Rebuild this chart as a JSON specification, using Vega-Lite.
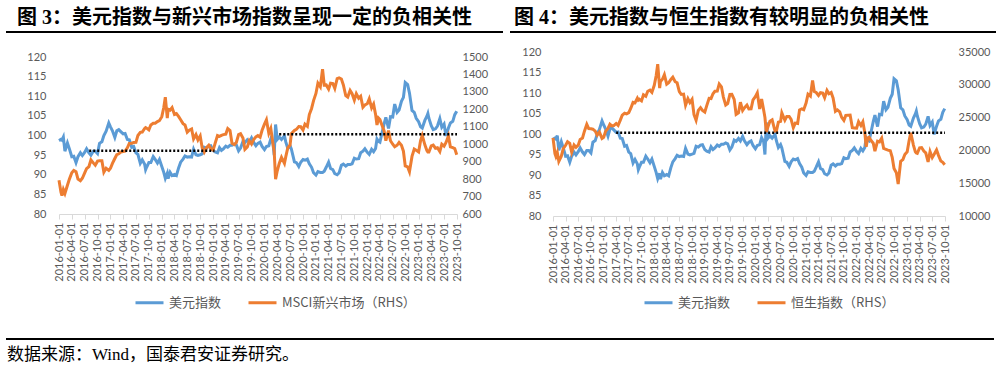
{
  "$schema": "https://vega.github.io/schema/vega-lite/v6.json",
  "background": "white",
  "padding": {"left": 5, "right": 5, "top": 8, "bottom": 5},
  "config": {
    "view": {"stroke": null},
    "font": "Lato, Noto Sans CJK SC",
    "axis": {"labelFont": "Lato, Noto Sans CJK SC", "labelColor": "#595959", "labelFontSize": 11, "grid": false}
  },
  "datasets": {
    "series": [
      {"date":"2016-01-01","usd":98.7,"em":794,"hsi":21914},
      {"date":"2016-01-15","usd":99.0,"em":725,"hsi":19520},
      {"date":"2016-01-22","usd":98.8,"em":705,"hsi":19080},
      {"date":"2016-02-01","usd":99.6,"em":740,"hsi":19683},
      {"date":"2016-02-12","usd":96.0,"em":718,"hsi":18320},
      {"date":"2016-03-01","usd":98.1,"em":765,"hsi":19111},
      {"date":"2016-03-15","usd":96.6,"em":800,"hsi":20258},
      {"date":"2016-04-01","usd":94.6,"em":836,"hsi":20777},
      {"date":"2016-04-15","usd":94.7,"em":850,"hsi":21316},
      {"date":"2016-05-01","usd":93.1,"em":842,"hsi":21067},
      {"date":"2016-05-15","usd":94.6,"em":800,"hsi":19720},
      {"date":"2016-06-01","usd":95.6,"em":791,"hsi":20815},
      {"date":"2016-06-15","usd":94.9,"em":805,"hsi":20468},
      {"date":"2016-07-01","usd":95.7,"em":834,"hsi":20794},
      {"date":"2016-07-15","usd":96.6,"em":860,"hsi":21659},
      {"date":"2016-08-01","usd":95.6,"em":872,"hsi":21891},
      {"date":"2016-08-15","usd":95.0,"em":910,"hsi":22932},
      {"date":"2016-09-01","usd":96.0,"em":893,"hsi":23977},
      {"date":"2016-09-15","usd":96.0,"em":880,"hsi":23335},
      {"date":"2016-10-01","usd":95.4,"em":903,"hsi":23297},
      {"date":"2016-10-15","usd":98.0,"em":905,"hsi":23233},
      {"date":"2016-11-01","usd":98.4,"em":905,"hsi":22935},
      {"date":"2016-11-15","usd":100.0,"em":840,"hsi":22323},
      {"date":"2016-12-01","usd":101.1,"em":862,"hsi":22790},
      {"date":"2016-12-20","usd":103.2,"em":850,"hsi":21830},
      {"date":"2017-01-01","usd":102.2,"em":862,"hsi":22001},
      {"date":"2017-01-15","usd":101.2,"em":890,"hsi":22937},
      {"date":"2017-02-01","usd":99.5,"em":918,"hsi":23361},
      {"date":"2017-02-15","usd":101.2,"em":940,"hsi":23994},
      {"date":"2017-03-01","usd":101.5,"em":945,"hsi":23741},
      {"date":"2017-03-15","usd":101.0,"em":955,"hsi":23792},
      {"date":"2017-04-01","usd":100.4,"em":958,"hsi":24112},
      {"date":"2017-04-15","usd":100.5,"em":960,"hsi":23825},
      {"date":"2017-05-01","usd":99.0,"em":979,"hsi":24615},
      {"date":"2017-05-15","usd":98.9,"em":1005,"hsi":25371},
      {"date":"2017-06-01","usd":97.0,"em":1006,"hsi":25661},
      {"date":"2017-06-15","usd":97.2,"em":1010,"hsi":25565},
      {"date":"2017-07-01","usd":95.6,"em":1011,"hsi":25765},
      {"date":"2017-07-15","usd":95.2,"em":1050,"hsi":26389},
      {"date":"2017-08-01","usd":92.9,"em":1068,"hsi":27324},
      {"date":"2017-08-15","usd":93.8,"em":1070,"hsi":27250},
      {"date":"2017-09-01","usd":92.7,"em":1090,"hsi":27970},
      {"date":"2017-09-08","usd":91.3,"em":1095,"hsi":27668},
      {"date":"2017-09-15","usd":91.9,"em":1092,"hsi":27808},
      {"date":"2017-10-01","usd":93.1,"em":1082,"hsi":27554},
      {"date":"2017-10-15","usd":93.1,"em":1110,"hsi":28476},
      {"date":"2017-11-01","usd":94.6,"em":1120,"hsi":28246},
      {"date":"2017-11-15","usd":93.9,"em":1120,"hsi":29018},
      {"date":"2017-12-01","usd":93.0,"em":1130,"hsi":29177},
      {"date":"2017-12-15","usd":93.9,"em":1135,"hsi":28848},
      {"date":"2018-01-01","usd":92.1,"em":1158,"hsi":29919},
      {"date":"2018-01-15","usd":90.6,"em":1210,"hsi":31412},
      {"date":"2018-01-26","usd":89.1,"em":1270,"hsi":33154},
      {"date":"2018-02-09","usd":90.4,"em":1150,"hsi":29507},
      {"date":"2018-02-15","usd":89.0,"em":1200,"hsi":30515},
      {"date":"2018-03-01","usd":90.6,"em":1195,"hsi":30845},
      {"date":"2018-03-15","usd":89.8,"em":1210,"hsi":31541},
      {"date":"2018-04-01","usd":90.1,"em":1170,"hsi":30093},
      {"date":"2018-04-15","usd":89.8,"em":1175,"hsi":30316},
      {"date":"2018-05-01","usd":91.8,"em":1158,"hsi":30808},
      {"date":"2018-05-15","usd":93.2,"em":1140,"hsi":31152},
      {"date":"2018-06-01","usd":94.0,"em":1118,"hsi":30469},
      {"date":"2018-06-15","usd":94.8,"em":1110,"hsi":30309},
      {"date":"2018-07-01","usd":94.5,"em":1069,"hsi":28955},
      {"date":"2018-07-15","usd":94.6,"em":1080,"hsi":28525},
      {"date":"2018-08-01","usd":94.5,"em":1087,"hsi":28583},
      {"date":"2018-08-15","usd":96.5,"em":1030,"hsi":26888},
      {"date":"2018-09-01","usd":95.1,"em":1055,"hsi":27889},
      {"date":"2018-09-15","usd":94.9,"em":1025,"hsi":27286},
      {"date":"2018-10-01","usd":95.1,"em":1048,"hsi":27789},
      {"date":"2018-10-15","usd":95.3,"em":980,"hsi":25445},
      {"date":"2018-10-30","usd":97.0,"em":955,"hsi":24586},
      {"date":"2018-11-15","usd":96.8,"em":980,"hsi":26103},
      {"date":"2018-12-01","usd":97.3,"em":994,"hsi":26507},
      {"date":"2018-12-15","usd":97.4,"em":975,"hsi":26094},
      {"date":"2019-01-01","usd":96.2,"em":966,"hsi":25846},
      {"date":"2019-01-15","usd":95.8,"em":1005,"hsi":26830},
      {"date":"2019-02-01","usd":95.6,"em":1050,"hsi":27942},
      {"date":"2019-02-15","usd":96.9,"em":1045,"hsi":27900},
      {"date":"2019-03-01","usd":96.2,"em":1051,"hsi":28633},
      {"date":"2019-03-15","usd":96.6,"em":1055,"hsi":29012},
      {"date":"2019-04-01","usd":97.3,"em":1058,"hsi":29051},
      {"date":"2019-04-15","usd":97.0,"em":1090,"hsi":30130},
      {"date":"2019-05-01","usd":97.5,"em":1079,"hsi":29699},
      {"date":"2019-05-15","usd":97.5,"em":1005,"hsi":28122},
      {"date":"2019-06-01","usd":97.8,"em":998,"hsi":26901},
      {"date":"2019-06-15","usd":97.6,"em":1010,"hsi":27118},
      {"date":"2019-07-01","usd":96.1,"em":1055,"hsi":28543},
      {"date":"2019-07-15","usd":96.8,"em":1060,"hsi":28554},
      {"date":"2019-08-01","usd":98.5,"em":1036,"hsi":27778},
      {"date":"2019-08-15","usd":98.2,"em":970,"hsi":25495},
      {"date":"2019-09-01","usd":98.9,"em":984,"hsi":25725},
      {"date":"2019-09-15","usd":98.3,"em":1020,"hsi":27353},
      {"date":"2019-10-01","usd":99.4,"em":1001,"hsi":26092},
      {"date":"2019-10-15","usd":98.3,"em":1025,"hsi":26521},
      {"date":"2019-11-01","usd":97.4,"em":1042,"hsi":26907},
      {"date":"2019-11-15","usd":98.0,"em":1050,"hsi":26327},
      {"date":"2019-12-01","usd":98.3,"em":1040,"hsi":26346},
      {"date":"2019-12-15","usd":97.2,"em":1080,"hsi":27688},
      {"date":"2020-01-01","usd":96.4,"em":1115,"hsi":28190},
      {"date":"2020-01-15","usd":97.2,"em":1140,"hsi":28773},
      {"date":"2020-02-01","usd":97.4,"em":1062,"hsi":26313},
      {"date":"2020-02-15","usd":99.1,"em":1090,"hsi":27815},
      {"date":"2020-03-01","usd":98.1,"em":1005,"hsi":26130},
      {"date":"2020-03-10","usd":95.0,"em":960,"hsi":25040},
      {"date":"2020-03-20","usd":102.8,"em":800,"hsi":22805},
      {"date":"2020-04-01","usd":99.0,"em":848,"hsi":23603},
      {"date":"2020-04-15","usd":99.6,"em":890,"hsi":24435},
      {"date":"2020-05-01","usd":99.0,"em":925,"hsi":24644},
      {"date":"2020-05-22","usd":99.9,"em":890,"hsi":22930},
      {"date":"2020-06-01","usd":98.3,"em":930,"hsi":22961},
      {"date":"2020-06-15","usd":96.7,"em":980,"hsi":24301},
      {"date":"2020-07-01","usd":97.4,"em":995,"hsi":24427},
      {"date":"2020-07-10","usd":96.6,"em":1060,"hsi":25727},
      {"date":"2020-08-01","usd":93.3,"em":1079,"hsi":24595},
      {"date":"2020-08-15","usd":93.1,"em":1085,"hsi":25183},
      {"date":"2020-09-01","usd":92.1,"em":1101,"hsi":25177},
      {"date":"2020-09-15","usd":93.2,"em":1100,"hsi":24733},
      {"date":"2020-10-01","usd":93.9,"em":1082,"hsi":23459},
      {"date":"2020-10-15","usd":93.7,"em":1115,"hsi":24158},
      {"date":"2020-11-01","usd":94.0,"em":1103,"hsi":24107},
      {"date":"2020-11-15","usd":92.8,"em":1170,"hsi":26157},
      {"date":"2020-12-01","usd":91.9,"em":1205,"hsi":26341},
      {"date":"2020-12-15","usd":90.5,"em":1250,"hsi":26207},
      {"date":"2021-01-01","usd":89.9,"em":1291,"hsi":27231},
      {"date":"2021-01-15","usd":90.8,"em":1350,"hsi":28573},
      {"date":"2021-02-01","usd":90.6,"em":1329,"hsi":28284},
      {"date":"2021-02-17","usd":90.6,"em":1430,"hsi":30644},
      {"date":"2021-03-01","usd":90.9,"em":1339,"hsi":28980},
      {"date":"2021-03-15","usd":91.9,"em":1340,"hsi":28833},
      {"date":"2021-04-01","usd":93.2,"em":1316,"hsi":28378},
      {"date":"2021-04-15","usd":91.6,"em":1350,"hsi":28793},
      {"date":"2021-05-01","usd":91.3,"em":1348,"hsi":28725},
      {"date":"2021-05-15","usd":90.3,"em":1320,"hsi":28028},
      {"date":"2021-06-01","usd":90.0,"em":1376,"hsi":29151},
      {"date":"2021-06-15","usd":90.5,"em":1380,"hsi":28638},
      {"date":"2021-07-01","usd":92.4,"em":1374,"hsi":28828},
      {"date":"2021-07-15","usd":92.7,"em":1340,"hsi":27996},
      {"date":"2021-08-01","usd":92.2,"em":1278,"hsi":25961},
      {"date":"2021-08-15","usd":92.6,"em":1270,"hsi":26181},
      {"date":"2021-09-01","usd":92.6,"em":1308,"hsi":25879},
      {"date":"2021-09-15","usd":92.8,"em":1290,"hsi":25034},
      {"date":"2021-10-01","usd":94.2,"em":1253,"hsi":24576},
      {"date":"2021-10-15","usd":94.0,"em":1290,"hsi":25330},
      {"date":"2021-11-01","usd":94.1,"em":1264,"hsi":25377},
      {"date":"2021-11-15","usd":95.6,"em":1275,"hsi":25390},
      {"date":"2021-12-01","usd":96.0,"em":1212,"hsi":23475},
      {"date":"2021-12-15","usd":96.6,"em":1225,"hsi":23420},
      {"date":"2022-01-01","usd":95.7,"em":1232,"hsi":23398},
      {"date":"2022-01-15","usd":95.2,"em":1260,"hsi":24383},
      {"date":"2022-02-01","usd":96.5,"em":1208,"hsi":23802},
      {"date":"2022-02-15","usd":95.9,"em":1230,"hsi":24356},
      {"date":"2022-03-01","usd":96.7,"em":1171,"hsi":22713},
      {"date":"2022-03-11","usd":99.1,"em":1110,"hsi":20553},
      {"date":"2022-03-22","usd":98.5,"em":1150,"hsi":21890},
      {"date":"2022-04-01","usd":98.3,"em":1141,"hsi":21997},
      {"date":"2022-04-15","usd":100.5,"em":1110,"hsi":21518},
      {"date":"2022-05-01","usd":103.0,"em":1076,"hsi":21089},
      {"date":"2022-05-13","usd":104.6,"em":1020,"hsi":19898},
      {"date":"2022-06-01","usd":101.8,"em":1078,"hsi":21415},
      {"date":"2022-06-15","usd":104.8,"em":1020,"hsi":21308},
      {"date":"2022-07-01","usd":104.7,"em":1000,"hsi":21860},
      {"date":"2022-07-15","usd":108.0,"em":985,"hsi":20297},
      {"date":"2022-08-01","usd":105.9,"em":994,"hsi":20157},
      {"date":"2022-08-15","usd":106.5,"em":1010,"hsi":20041},
      {"date":"2022-09-01","usd":108.7,"em":994,"hsi":19954},
      {"date":"2022-09-15","usd":109.7,"em":960,"hsi":18930},
      {"date":"2022-09-28","usd":113.5,"em":876,"hsi":17250},
      {"date":"2022-10-15","usd":113.0,"em":870,"hsi":16588},
      {"date":"2022-10-28","usd":110.8,"em":842,"hsi":14863},
      {"date":"2022-11-15","usd":106.4,"em":930,"hsi":18343},
      {"date":"2022-12-01","usd":105.9,"em":972,"hsi":18597},
      {"date":"2022-12-15","usd":104.4,"em":965,"hsi":19368},
      {"date":"2023-01-01","usd":103.5,"em":956,"hsi":19781},
      {"date":"2023-01-15","usd":102.2,"em":1020,"hsi":21514},
      {"date":"2023-01-27","usd":101.9,"em":1050,"hsi":22689},
      {"date":"2023-02-15","usd":103.9,"em":995,"hsi":20812},
      {"date":"2023-03-01","usd":104.9,"em":964,"hsi":19786},
      {"date":"2023-03-08","usd":105.6,"em":955,"hsi":19599},
      {"date":"2023-03-15","usd":104.4,"em":955,"hsi":19539},
      {"date":"2023-04-01","usd":102.5,"em":990,"hsi":20400},
      {"date":"2023-04-15","usd":101.5,"em":995,"hsi":20439},
      {"date":"2023-05-01","usd":101.7,"em":977,"hsi":19895},
      {"date":"2023-05-15","usd":102.4,"em":980,"hsi":19627},
      {"date":"2023-06-01","usd":104.3,"em":958,"hsi":18234},
      {"date":"2023-06-15","usd":102.1,"em":1000,"hsi":19828},
      {"date":"2023-07-01","usd":102.9,"em":989,"hsi":18916},
      {"date":"2023-07-15","usd":99.9,"em":1010,"hsi":19413},
      {"date":"2023-08-01","usd":101.9,"em":1047,"hsi":20079},
      {"date":"2023-08-15","usd":103.2,"em":985,"hsi":19246},
      {"date":"2023-09-01","usd":103.6,"em":980,"hsi":18382},
      {"date":"2023-09-15","usd":105.3,"em":975,"hsi":18182},
      {"date":"2023-09-29","usd":106.2,"em":940,"hsi":17810}
    ],
    "avg3": [
      {"start":"2016-08-03","end":"2019-01-10","level":96.1},
      {"start":"2020-04-15","end":"2023-10-01","level":100.3}
    ],
    "avg4": [
      {"start":"2017-04-01","end":"2023-10-01","level":100.3}
    ],
    "titleRule": [{"part":"rule"}],
    "empty": []
  },
  "spacing": 28,
  "vconcat": [
    {
      "spacing": 5,
      "resolve": {"scale": {"color": "independent"}, "legend": {"color": "independent"}},
      "hconcat": [
        {
          "spacing": 18,
          "resolve": {"scale": {"color": "independent"}, "legend": {"color": "independent"}},
          "vconcat": [
            {
              "width": 497, "height": 1,
              "data": {"name": "titleRule"},
              "title": {"text": "图 3：美元指数与新兴市场指数呈现一定的负相关性", "anchor": "start", "orient": "top", "fontSize": 20, "fontWeight": "bold", "font": "Liberation Serif, Noto Sans CJK SC", "color": "#000000", "offset": 3, "dx": 12},
              "mark": {"type": "rule", "color": "#000000", "strokeWidth": 2},
              "encoding": {"y": {"datum": 1, "type": "quantitative", "scale": {"domain": [0, 1]}, "axis": null}}
            },
            {
              "spacing": 0,
              "resolve": {"scale": {"color": "independent"}, "legend": {"color": "independent"}},
              "hconcat": [
                {"width": 1, "height": 1, "data": {"name": "empty"}, "mark": "point", "encoding": {}},
                {
                  "width": 398, "height": 157,
                  "data": {"name": "series"},
                  "layer": [
                    {
                      "mark": {"type": "line", "strokeWidth": 3},
                      "encoding": {
                        "x": {"field": "date", "type": "temporal", "title": null,
                          "scale": {"type": "utc", "domain": [{"year": 2016, "month": 1, "date": 1, "utc": true}, {"year": 2023, "month": 10, "date": 1, "utc": true}]},
                          "axis": {"format": "%Y-%m-%d", "labelAngle": -90, "tickCount": {"interval": "month", "step": 3}, "labelOverlap": false, "labelFlush": false, "labelBound": false, "domainColor": "#D9D9D9", "tickColor": "#D9D9D9", "tickSize": 5, "labelPadding": 3, "labelFontSize": 11, "labelColor": "#595959", "grid": false}},
                        "y": {"field": "usd", "type": "quantitative", "title": null,
                          "scale": {"domain": [80, 120], "nice": false, "zero": false},
                          "axis": {"orient": "left", "values": [80, 85, 90, 95, 100, 105, 110, 115, 120], "domain": false, "ticks": false, "labelPadding": 13, "minExtent": 52, "grid": false}},
                        "color": {"datum": "美元指数", "type": "nominal",
                          "scale": {"domain": ["美元指数", "MSCI新兴市场（RHS）"], "range": ["#5B9BD5", "#ED7D31"]},
                          "legend": {"orient": "none", "legendX": 75, "legendY": 230, "direction": "horizontal", "title": null, "symbolType": "stroke", "symbolSize": 784, "symbolStrokeWidth": 3, "labelFontSize": 13, "labelFont": "Noto Sans CJK SC", "labelColor": "#595959", "columnPadding": 20, "labelOffset": 4}}
                      }
                    },
                    {
                      "mark": {"type": "line", "strokeWidth": 3},
                      "encoding": {
                        "x": {"field": "date", "type": "temporal", "title": null,
                          "scale": {"type": "utc", "domain": [{"year": 2016, "month": 1, "date": 1, "utc": true}, {"year": 2023, "month": 10, "date": 1, "utc": true}]}},
                        "y": {"field": "em", "type": "quantitative", "title": null,
                          "scale": {"domain": [600, 1500], "nice": false, "zero": false},
                          "axis": {"orient": "right", "values": [600, 700, 800, 900, 1000, 1100, 1200, 1300, 1400, 1500], "format": "d", "domain": false, "ticks": false, "labelPadding": 5, "grid": false}},
                        "color": {"datum": "MSCI新兴市场（RHS）", "type": "nominal"}
                      }
                    },
                    {
                      "data": {"name": "avg3"},
                      "mark": {"type": "rule", "color": "#000000", "strokeWidth": 2.5, "strokeDash": [2, 2]},
                      "encoding": {
                        "x": {"field": "start", "type": "temporal", "title": null,
                          "scale": {"type": "utc", "domain": [{"year": 2016, "month": 1, "date": 1, "utc": true}, {"year": 2023, "month": 10, "date": 1, "utc": true}]}},
                        "x2": {"field": "end"},
                        "y": {"field": "level", "type": "quantitative", "title": null,
                          "scale": {"domain": [80, 120], "nice": false, "zero": false}, "axis": null}
                      }
                    }
                  ],
                  "resolve": {"scale": {"y": "independent"}, "axis": {"y": "independent"}}
                }
              ]
            }
          ]
        },
        {
          "spacing": 13,
          "resolve": {"scale": {"color": "independent"}, "legend": {"color": "independent"}},
          "vconcat": [
            {
              "width": 486, "height": 1,
              "data": {"name": "titleRule"},
              "title": {"text": "图 4：美元指数与恒生指数有较明显的负相关性", "anchor": "start", "orient": "top", "fontSize": 20, "fontWeight": "bold", "font": "Liberation Serif, Noto Sans CJK SC", "color": "#000000", "offset": 3, "dx": 5},
              "mark": {"type": "rule", "color": "#000000", "strokeWidth": 2},
              "encoding": {"y": {"datum": 1, "type": "quantitative", "scale": {"domain": [0, 1]}, "axis": null}}
            },
            {
              "spacing": 0,
              "resolve": {"scale": {"color": "independent"}, "legend": {"color": "independent"}},
              "hconcat": [
                {"width": 1, "height": 1, "data": {"name": "empty"}, "mark": "point", "encoding": {}},
                {
                  "width": 392, "height": 164,
                  "data": {"name": "series"},
                  "layer": [
                    {
                      "mark": {"type": "line", "strokeWidth": 3},
                      "encoding": {
                        "x": {"field": "date", "type": "temporal", "title": null,
                          "scale": {"type": "utc", "domain": [{"year": 2016, "month": 1, "date": 1, "utc": true}, {"year": 2023, "month": 10, "date": 1, "utc": true}]},
                          "axis": {"format": "%Y-%m-%d", "labelAngle": -90, "tickCount": {"interval": "month", "step": 3}, "labelOverlap": false, "labelFlush": false, "labelBound": false, "domainColor": "#D9D9D9", "tickColor": "#D9D9D9", "tickSize": 5, "labelPadding": 3, "labelFontSize": 11, "labelColor": "#595959", "grid": false}},
                        "y": {"field": "usd", "type": "quantitative", "title": null,
                          "scale": {"domain": [80, 120], "nice": false, "zero": false},
                          "axis": {"orient": "left", "values": [80, 85, 90, 95, 100, 105, 110, 115, 120], "domain": false, "ticks": false, "labelPadding": 12, "minExtent": 42, "grid": false}},
                        "color": {"datum": "美元指数", "type": "nominal",
                          "scale": {"domain": ["美元指数", "恒生指数（RHS）"], "range": ["#5B9BD5", "#ED7D31"]},
                          "legend": {"orient": "none", "legendX": 90, "legendY": 235, "direction": "horizontal", "title": null, "symbolType": "stroke", "symbolSize": 784, "symbolStrokeWidth": 3, "labelFontSize": 13, "labelFont": "Noto Sans CJK SC", "labelColor": "#595959", "columnPadding": 20, "labelOffset": 4}}
                      }
                    },
                    {
                      "mark": {"type": "line", "strokeWidth": 3},
                      "encoding": {
                        "x": {"field": "date", "type": "temporal", "title": null,
                          "scale": {"type": "utc", "domain": [{"year": 2016, "month": 1, "date": 1, "utc": true}, {"year": 2023, "month": 10, "date": 1, "utc": true}]}},
                        "y": {"field": "hsi", "type": "quantitative", "title": null,
                          "scale": {"domain": [10000, 35000], "nice": false, "zero": false},
                          "axis": {"orient": "right", "values": [10000, 15000, 20000, 25000, 30000, 35000], "format": "d", "domain": false, "ticks": false, "labelPadding": 13, "grid": false}},
                        "color": {"datum": "恒生指数（RHS）", "type": "nominal"}
                      }
                    },
                    {
                      "data": {"name": "avg4"},
                      "mark": {"type": "rule", "color": "#000000", "strokeWidth": 2.5, "strokeDash": [2, 2]},
                      "encoding": {
                        "x": {"field": "start", "type": "temporal", "title": null,
                          "scale": {"type": "utc", "domain": [{"year": 2016, "month": 1, "date": 1, "utc": true}, {"year": 2023, "month": 10, "date": 1, "utc": true}]}},
                        "x2": {"field": "end"},
                        "y": {"field": "level", "type": "quantitative", "title": null,
                          "scale": {"domain": [80, 120], "nice": false, "zero": false}, "axis": null}
                      }
                    }
                  ],
                  "resolve": {"scale": {"y": "independent"}, "axis": {"y": "independent"}}
                }
              ]
            }
          ]
        }
      ]
    },
    {
      "width": 988, "height": 1,
      "data": {"name": "titleRule"},
      "title": {"text": "数据来源：Wind，国泰君安证券研究。", "anchor": "start", "orient": "bottom", "fontSize": 17, "fontWeight": "normal", "font": "Liberation Serif, Noto Sans CJK SC", "color": "#000000", "offset": 7, "dx": 2},
      "mark": {"type": "rule", "color": "#000000", "strokeWidth": 2},
      "encoding": {"y": {"datum": 1, "type": "quantitative", "scale": {"domain": [0, 1]}, "axis": null}}
    }
  ]
}
